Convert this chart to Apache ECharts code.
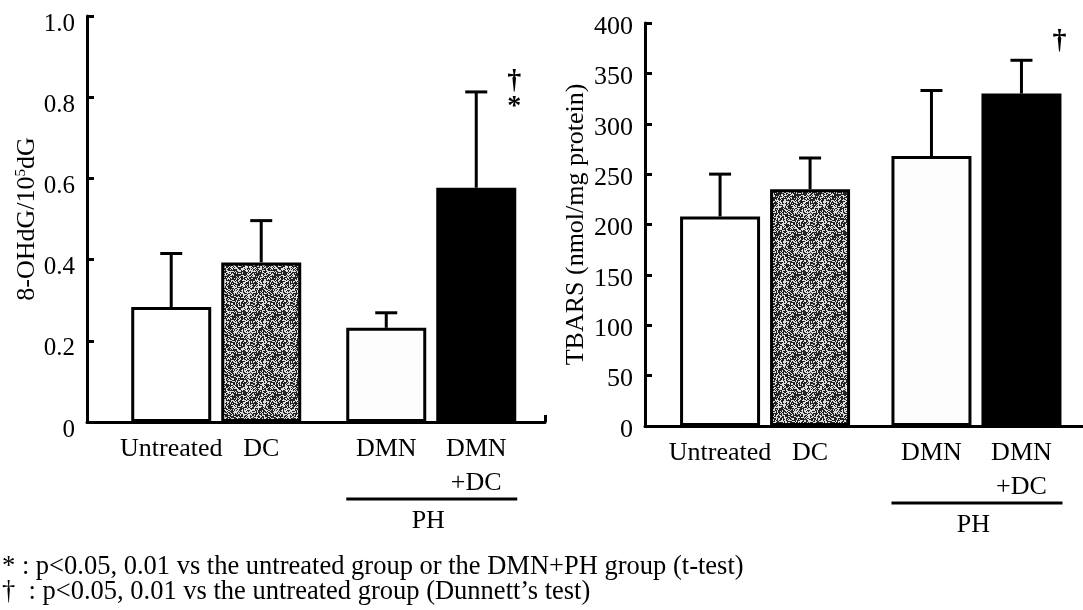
<!DOCTYPE html>
<html><head><meta charset="utf-8">
<script src="https://cdn.jsdelivr.net/npm/echarts@6/dist/echarts.min.js"></script>
<style>html,body{margin:0;padding:0;background:#fff}#c{width:1083px;height:610px}</style>
</head><body><div id="c"></div>
<script>
// ---- data ----
const categories = ['Untreated', 'DC', 'DMN', 'DMN\n+DC'];
const groupIndex = [0, 0, 1, 1];      // 0 = no PH, 1 = PH group
const slotIndex  = [0, 1, 0, 1];      // position inside the group
const ohdgMean = [0.283, 0.393, 0.232, 0.577];
const ohdgSD   = [0.132, 0.103, 0.037, 0.236];
const tbarsMean = [208, 235, 268, 330];
const tbarsSD   = [42, 31, 65, 33];
const ohdgSig  = ['', '', '', '†\n*'];
const tbarsSig = ['', '', '', '†'];
const ohdgTickLabels  = ['0', '0.2', '0.4', '0.6', '0.8', '1.0'];
const tbarsTickLabels = ['0', '50', '100', '150', '200', '250', '300', '350', '400'];
const groupLabel = 'PH';
const footnotes = [
  '* : p<0.05, 0.01 vs the untreated group or the DMN+PH group (t-test)',
  '†  : p<0.05, 0.01 vs the untreated group (Dunnett’s test)'
];

// ---- styles ----
const FONT = 'Liberation Serif';
const BAR_W = 80, HALF = 45;

function speckle() {
  const n = 40;
  const c = document.createElement('canvas');
  c.width = n; c.height = n;
  const ctx = c.getContext('2d');
  ctx.fillStyle = '#dedede'; ctx.fillRect(0, 0, n, n);
  ctx.fillStyle = '#222222';
  for (let i = 0; i < n; i++) for (let j = 0; j < n; j++) {
    let h = (i * 374761393 + j * 668265263) >>> 0;
    h = ((h ^ (h >>> 13)) * 1274126177) >>> 0;
    h = (h ^ (h >>> 16)) % 100;
    if (h < 11) ctx.fillRect(i, j, 1, 1);
  }
  return c;
}
const pat = { image: speckle(), repeat: 'repeat' };
const fills = ['#ffffff', pat, '#fdfdfd', '#000000'];

function barSeries(gi, means, slot) {
  const data = [];
  means.forEach((m, i) => {
    if (slotIndex[i] === slot) data.push({ value: [groupIndex[i], m], idx: i, itemStyle: { color: fills[i] } });
  });
  return {
    type: 'bar', xAxisIndex: gi, yAxisIndex: gi, barWidth: BAR_W, barGap: '12.5%',
    itemStyle: { borderColor: '#000', borderWidth: 3 },
    label: {
      show: true, position: 'bottom', distance: 10, color: '#000',
      fontFamily: FONT, fontSize: 26, lineHeight: 34, align: 'center',
      formatter: p => categories[p.data.idx]
    },
    data
  };
}

function errSeries(gi, means, sds, sig, sigDy) {
  return {
    type: 'custom', xAxisIndex: gi, yAxisIndex: gi, z: 5,
    data: means.map((m, i) => [groupIndex[i], m + sds[i], slotIndex[i], m, i]),
    renderItem(params, api) {
      const g = api.value(0), top = api.value(1), slot = api.value(2), mean = api.value(3), i = api.value(4);
      const b = api.coord([g, mean]);
      const t = api.coord([g, top]);
      const x = b[0] + (slot ? HALF : -HALF);
      const ch = [
        { type: 'line', shape: { x1: x, y1: b[1], x2: x, y2: t[1] }, style: { stroke: '#000', lineWidth: 3 } },
        { type: 'line', shape: { x1: x - 11, y1: t[1], x2: x + 11, y2: t[1] }, style: { stroke: '#000', lineWidth: 3 } }
      ];
      if (sig[i]) ch.push({ type: 'text', style: { text: sig[i], x: x + 38, y: t[1] + sigDy, align: 'center', verticalAlign: 'middle', fontFamily: FONT, fontSize: 28, fontWeight: 'bold', lineHeight: 26, fill: '#000' } });
      return { type: 'group', children: ch };
    }
  };
}

function xAxisCfg(gi, min, max, endTick) {
  return {
    type: 'value', gridIndex: gi, min, max,
    axisLine: { onZero: false, lineStyle: { color: '#000', width: 3 } },
    axisTick: endTick ? { show: true, inside: true, length: 7, customValues: [max], lineStyle: { color: '#000', width: 3 } } : { show: false },
    axisLabel: { show: false }, splitLine: { show: false }
  };
}

const option = {
  animation: false,
  backgroundColor: '#fff',
  grid: [
    { left: 87, top: 16, width: 458, height: 406 },
    { left: 645, top: 23, width: 438, height: 403 }
  ],
  xAxis: [ xAxisCfg(0, -0.601, 1.529, true), xAxisCfg(1, -0.568, 1.504, false) ],
  yAxis: [
    {
      type: 'value', gridIndex: 0, min: 0, max: 1.0, interval: 0.2,
      axisLine: { show: true, onZero: false, lineStyle: { color: '#000', width: 3 } },
      axisTick: { show: true, inside: true, length: 7, lineStyle: { color: '#000', width: 3 } },
      splitLine: { show: false },
      axisLabel: { color: '#000', fontFamily: FONT, fontSize: 25, margin: 12, verticalAlign: 'top', lineHeight: 16, formatter: (v, idx) => ohdgTickLabels[idx] },
      name: '8-OHdG/10{sup|5}dG', nameLocation: 'middle', nameGap: 42, nameRotate: 90,
      nameTextStyle: { color: '#000', fontFamily: FONT, fontSize: 26, lineHeight: 26, rich: { sup: { fontFamily: FONT, fontSize: 15, verticalAlign: 'top', lineHeight: 26, color: '#000' } } }
    },
    {
      type: 'value', gridIndex: 1, min: 0, max: 400, interval: 50,
      axisLine: { show: true, onZero: false, lineStyle: { color: '#000', width: 3 } },
      axisTick: { show: true, inside: true, length: 7, lineStyle: { color: '#000', width: 3 } },
      splitLine: { show: false },
      axisLabel: { color: '#000', fontFamily: FONT, fontSize: 26, margin: 12, verticalAlign: 'top', lineHeight: 8, formatter: (v, idx) => tbarsTickLabels[idx] },
      name: 'TBARS (nmol/mg protein)', nameLocation: 'middle', nameGap: 56, nameRotate: 90,
      nameTextStyle: { color: '#000', fontFamily: FONT, fontSize: 26 }
    }
  ],
  series: [
    barSeries(0, ohdgMean, 0), barSeries(0, ohdgMean, 1), errSeries(0, ohdgMean, ohdgSD, ohdgSig, 2),
    barSeries(1, tbarsMean, 0), barSeries(1, tbarsMean, 1), errSeries(1, tbarsMean, tbarsSD, tbarsSig, -20)
  ]
};

const chart = echarts.init(document.getElementById('c'), null, { renderer: 'canvas' });
chart.setOption(option);

// PH bracket + footnotes
const g = [];
[0, 1].forEach(gi => {
  const p = chart.convertToPixel({ gridIndex: gi }, [1, 0]);
  g.push({ type: 'line', shape: { x1: p[0] - 85, y1: p[1] + 77, x2: p[0] + 86, y2: p[1] + 77 }, style: { stroke: '#000', lineWidth: 3 } });
  g.push({ type: 'text', style: { text: groupLabel, x: p[0] - 3, y: p[1] + 99, align: 'center', verticalAlign: 'middle', fontFamily: FONT, fontSize: 26, fill: '#000' } });
});
footnotes.forEach((t, k) => {
  g.push({ type: 'text', style: { text: t, x: 2, y: 567 + k * 25, align: 'left', verticalAlign: 'middle', fontFamily: FONT, fontSize: 26.5, fill: '#000' } });
});
chart.setOption({ graphic: g });
</script>
</body></html>
